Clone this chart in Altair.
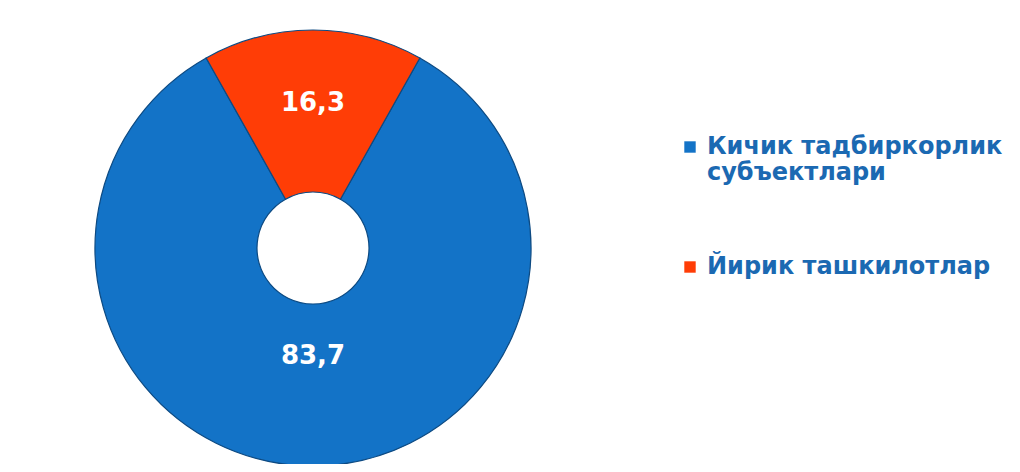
import altair as alt
import pandas as pd

categories = ["Кичик тадбиркорлик\nсубъектлари", "Йирик ташкилотлар"]
values = [83.7, 16.3]
labels = ["83,7", "16,3"]
order_idx = [0, 1]
colors = ["#1373C7", "#FF3D06"]

df = pd.DataFrame({"cat": categories, "val": values, "lbl": labels, "idx": order_idx})

start = 0.5121
theta_scale = alt.Scale(domain=[0, 100], range=[start, start + 6.283185])

arcs = alt.Chart(df).mark_arc(stroke="#0d4a82", strokeWidth=1.2).encode(
    theta=alt.Theta("val:Q", stack=True, scale=theta_scale),
    order=alt.Order("idx:Q"),
    x=alt.value(305),
    y=alt.value(240),
    radius=alt.value(218),
    radius2=alt.value(56),
    color=alt.Color(
        "cat:N",
        sort=categories,
        scale=alt.Scale(domain=categories, range=colors),
        legend=alt.Legend(
            title=None,
            orient="none",
            legendX=670,
            legendY=127,
            symbolType="square",
            symbolSize=130,
            symbolStrokeWidth=0,
            labelFontSize=24,
            labelFont="DejaVu Sans",
            labelFontWeight="bold",
            labelColor="#1B69B2",
            labelLimit=500,
            labelExpr="split(datum.label, '\\n')",
            rowPadding=70,
            labelOffset=5,
        ),
    ),
)

labels_layer = alt.Chart(df).mark_text(
    font="DejaVu Sans", fontSize=26, fontWeight="bold", color="white",
    align="center", baseline="middle"
).transform_window(
    cum="sum(val)", sort=[alt.SortField("idx")]
).transform_calculate(
    mid="datum.cum - datum.val / 2",
    r="datum.idx == 1 ? 145 : 108",
).encode(
    theta=alt.Theta("mid:Q", stack=None, scale=theta_scale),
    x=alt.value(305), y=alt.value(240),
    radius=alt.Radius("r:Q", scale=None),
    text="lbl:N",
)

chart = alt.layer(arcs, labels_layer).properties(
    width=1004, height=456, padding=0, autosize=alt.AutoSizeParams(type="none")
).configure_view(stroke=None)

chart.save("out.html", embed_options={"renderer": "svg", "actions": False})
